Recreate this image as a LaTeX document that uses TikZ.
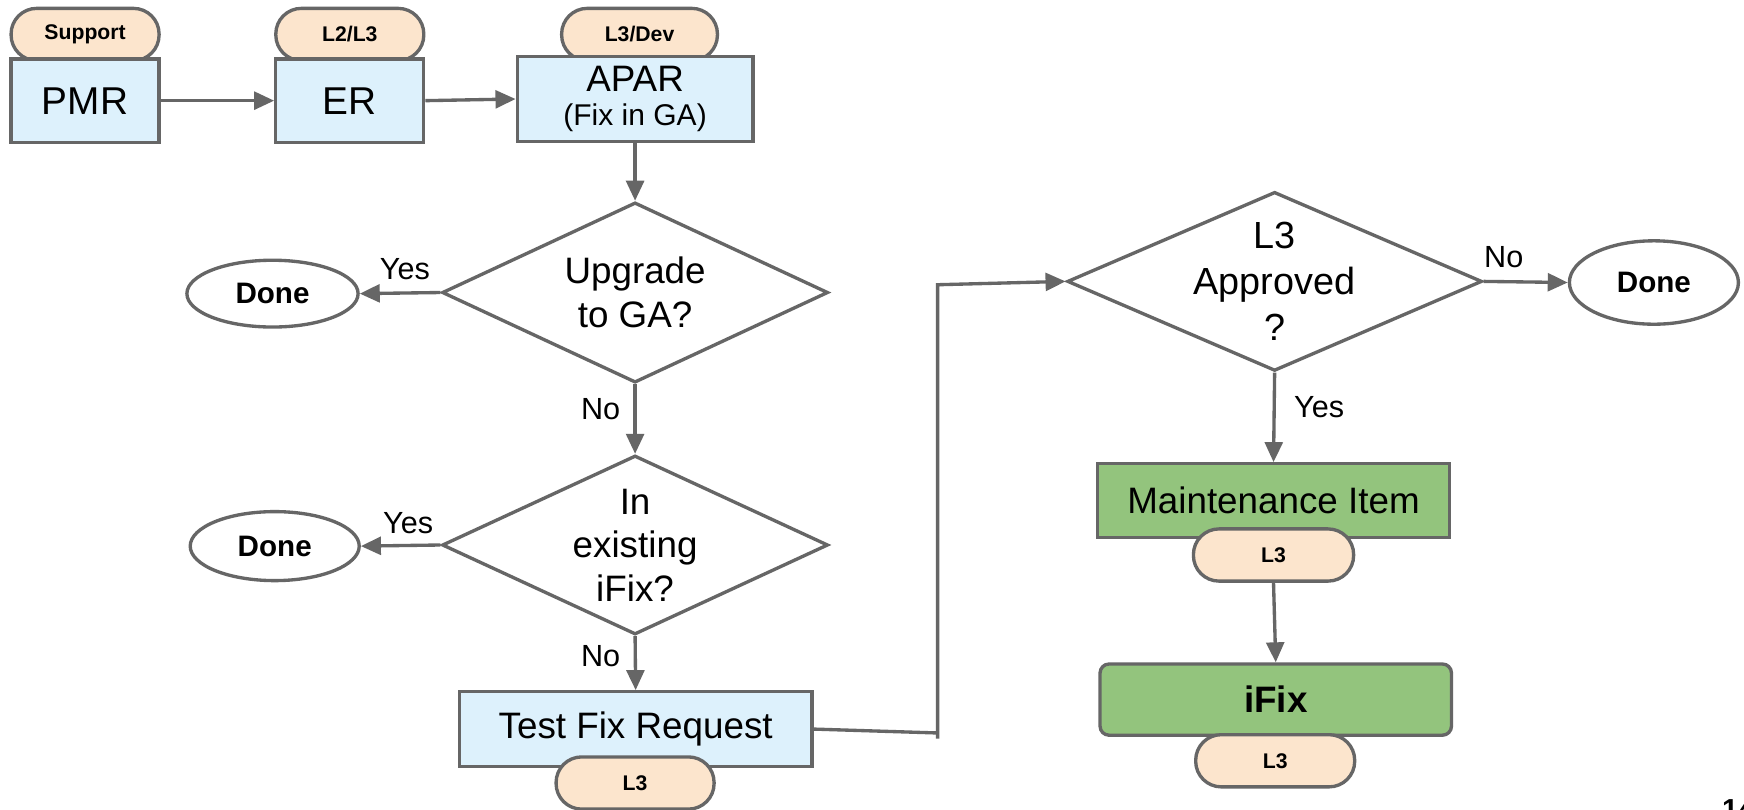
\documentclass[tikz,border=0pt]{standalone}
\usepackage{fontspec}
\setmainfont{Liberation Sans}
\usetikzlibrary{shapes.geometric,arrows.meta}
\definecolor{bord}{HTML}{666666}
\definecolor{boxblue}{HTML}{DDF1FC}
\definecolor{peach}{HTML}{FCE5CD}
\definecolor{leaf}{HTML}{93C47D}
\newcommand{\fs}[1]{\fontsize{#1}{#1}\selectfont}
\begin{document}
\begin{tikzpicture}[x=0.5561pt,y=-0.5561pt,
  procbox/.style={draw=bord, line width=1.67pt, fill=boxblue, inner sep=0pt, align=center, font=\fs{18.4}},
  greenbox/.style={draw=bord, line width=1.67pt, fill=leaf, inner sep=0pt, align=center, font=\fs{18.4}},
  pill/.style={draw=bord, line width=1.67pt, fill=peach, rounded corners=12.8pt, inner sep=0pt, minimum height=26.1pt, font=\fs{10.6}\bfseries},
  decision/.style={diamond, draw=bord, line width=1.67pt, inner sep=0pt, fill=white},
  dtext/.style={align=center, font=\fontsize{18.4}{21.7}\selectfont},
  term/.style={ellipse, draw=bord, line width=1.67pt, inner sep=0pt, fill=white, font=\fs{14.8}\bfseries},
  line/.style={draw=bord, line width=1.67pt},
  conn/.style={draw=bord, line width=1.67pt, -{Triangle[length=10pt,width=8.9pt]}},
  lbl/.style={font=\fs{15.3}, inner sep=0pt}
]
\useasboundingbox (0,0) rectangle (1568,727.4);
\fill[white] (0,0) rectangle (1568,727.4);

% top pills (behind boxes)
\node[pill, minimum width=74pt] (supp) at (76.5,31) {Support};
\node[pill, minimum width=74pt] (l2l3) at (314.5,31) {L2/L3};
\node[pill, minimum width=77.9pt] (l3dev) at (575,31) {L3/Dev};

% top boxes
\node[procbox, minimum width=74pt, minimum height=41.7pt, font=\fs{19.4}] (pmr) at (76.5,90.5) {PMR};
\node[procbox, minimum width=74pt, minimum height=41.7pt, font=\fs{19.4}] (er) at (314.5,90.5) {ER};
\node[procbox, minimum width=117.9pt, minimum height=42.3pt] (apar) at (571,89) {APAR\\[-1.1pt]{\fs{15}(Fix in GA)}};

% decisions
\node[decision, minimum width=193pt, minimum height=90.1pt] (d1) at (571,263) {};
\node[dtext] (d1t) at (d1) {Upgrade\\to GA?};
\node[decision, minimum width=193pt, minimum height=89.5pt] (d2) at (571,490) {};
\node[dtext] (d2t) at (d2) {In\\existing\\iFix?};
\node[decision, minimum width=207.4pt, minimum height=89.5pt] (d3) at (1146,253) {};
\node[dtext, font=\fontsize{18.9}{22.8}\selectfont] (d3t) at (d3) {L3\\Approved\\?};

% terminals
\node[term, minimum width=85.6pt, minimum height=33.4pt] (done1) at (245,264) {Done};
\node[term, minimum width=84.5pt, minimum height=34.5pt] (done2) at (247,491) {Done};
\node[term, minimum width=84.5pt, minimum height=41.7pt] (done3) at (1487,254) {Done};

% lower boxes
\node[procbox, minimum width=176.3pt, minimum height=37.3pt] (tfr) at (571.5,655.5) {Test Fix Request};
\node[pill, minimum width=79pt] (tfrpill) at (571,704) {L3};
\node[greenbox, minimum width=175.7pt, minimum height=36.7pt] (mi) at (1145,450) {Maintenance Item};
\node[pill, minimum width=80.1pt] (mipill) at (1145,499) {L3};
\node[greenbox, rounded corners=4.5pt, minimum width=175.7pt, minimum height=35.6pt, font=\fs{18.4}\bfseries] (ifix) at (1147,629) {iFix};
\node[pill, minimum width=79.5pt] (ifixpill) at (1146.5,684) {L3};

% routing points
\coordinate (c0) at (843,664);
\coordinate (c1) at (843,659);
\coordinate (c2) at (843,256);

% connectors
\draw[conn] (pmr.east) -- (er.west);
\draw[conn] (er.east) -- (apar.west);
\draw[conn] (apar.south) -- (d1.north);
\draw[conn] (d1.west) -- (done1.east);
\draw[conn] (d1.south) -- (d2.north);
\draw[conn] (d2.west) -- (done2.east);
\draw[conn] (d2.south) -- (tfr.north);
\draw[line] (tfr.east) -- (c1);
\draw[conn] (c0) -- (c2) -- (d3.west);
\draw[conn] (d3.east) -- (done3.west);
\draw[conn] (d3.south) -- (mi.north);
\draw[conn] (mipill.south) -- (ifix.north);

% labels
\node[lbl] (y1) at (364,242) {Yes};
\node[lbl] (n1) at (540,368) {No};
\node[lbl] (y2) at (367,470) {Yes};
\node[lbl] (n2) at (540,590) {No};
\node[lbl] (n3) at (1352,231) {No};
\node[lbl] (y3) at (1186,366) {Yes};

% page number fragment
\node[font=\fs{14.46}\bfseries, anchor=north west, inner sep=0pt] (pg) at (1548,718.5) {14};
\end{tikzpicture}
\end{document}
